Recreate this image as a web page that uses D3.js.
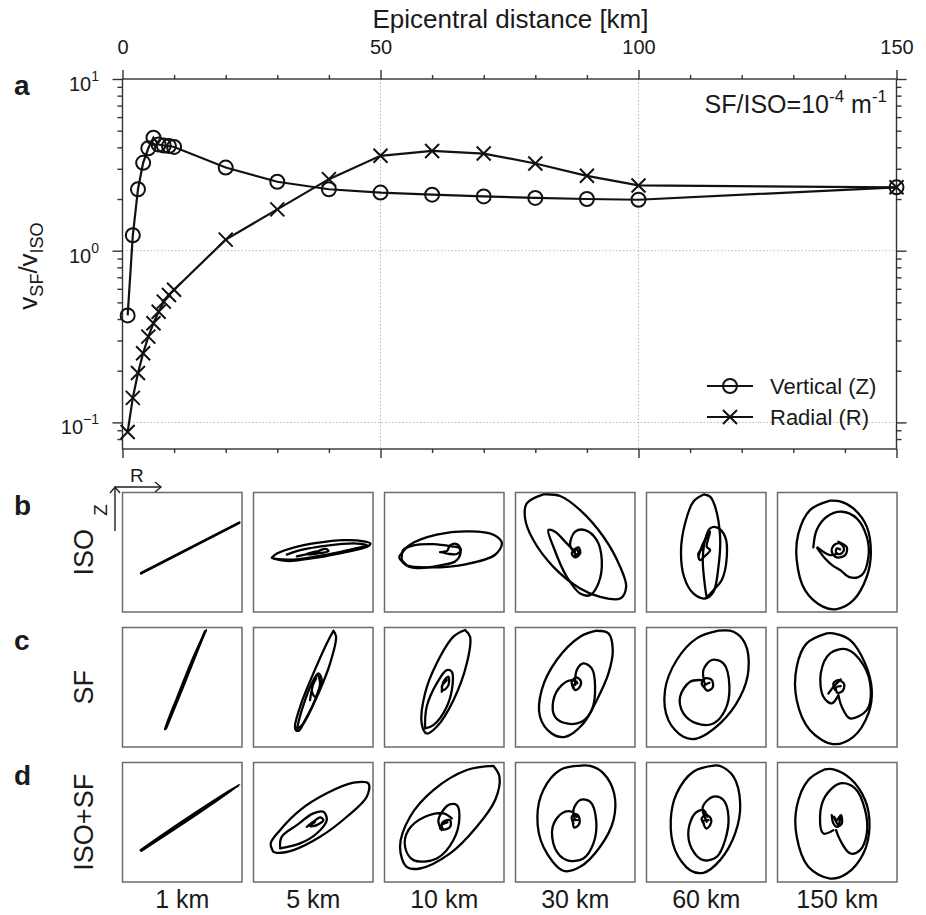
<!DOCTYPE html>
<html>
<head>
<meta charset="utf-8">
<script src="https://cdn.jsdelivr.net/npm/d3@7"></script>
<style>
  body { margin: 0; background: #fff; }
  svg { font-family: "Liberation Sans", Arial, sans-serif; }
</style>
</head>
<body>
<svg></svg>
<script>
// panel a values
let distances = [1, 2, 3, 4, 5, 6, 7, 8, 9, 10, 20, 30, 40, 50, 60, 70, 80, 90, 100, 150]
let vertical = [0.42, 1.23, 2.28, 3.25, 3.95, 4.55, 4.15, 4.1, 4.07, 4.02, 3.05, 2.52, 2.28, 2.18, 2.12, 2.07, 2.03, 2.0, 1.98, 2.34]
let radial = [0.088, 0.139, 0.194, 0.253, 0.316, 0.378, 0.441, 0.505, 0.552, 0.592, 1.16, 1.74, 2.61, 3.57, 3.81, 3.68, 3.22, 2.73, 2.40, 2.34]

let xTicks = [0, 50, 100, 150]
let xMinor = [10, 20, 30, 40, 60, 70, 80, 90, 110, 120, 130, 140]
let yTicks = [0.1, 1, 10]
let yTickExp = ['-1', '0', '1']
let yMinor = [0.08, 0.09, 0.2, 0.3, 0.4, 0.5, 0.6, 0.7, 0.8, 0.9, 2, 3, 4, 5, 6, 7, 8, 9]
let gridX = [50, 100]
let gridY = [0.1, 1]

// panels b-d: particle motion, [R, Z] in box percent (Z upward)
let panelDist = ['1 km', '5 km', '10 km', '30 km', '60 km', '150 km']
let rowNames = ['ISO', 'SF', 'ISO+SF']
let rowLetters = ['b', 'c', 'd']

let hodoISO = [
  [[[15.4,32.7],[97.8,74.9]], [[15.6,32.2],[97.6,74.5]]],
  [[[15.4,45.3],[27.9,42.7],[53.1,45.5],[78.2,50.3],[95.0,54.5],[97.8,57.3],[92.2,59.2],[75.4,60.1],[53.1,57.8],[33.5,53.9],[19.6,48.9],[15.4,45.5]],
   [[17.3,44.4],[33.5,43.9],[61.5,48.0],[83.8,52.8],[95.0,55.9],[86.6,57.3],[61.5,55.6],[39.1,51.7],[27.9,48.0]],
   [[36.3,46.6],[53.1,50.6],[60.1,52.8],[62.8,51.1],[53.1,48.9],[43.3,48.3],[51.7,50.6]]],
  [[[12.4,46.5],[21.4,56.3],[43.7,64.7],[71.6,67.5],[91.2,64.7],[98.2,57.7],[92.6,47.9],[68.9,40.1],[38.1,37.3],[18.6,39.0],[12.4,45.1]],
   [[14.4,43.7],[15.8,52.1],[24.2,55.7],[40.9,56.8],[56.3,54.9],[62.7,53.5],[63.3,47.9],[59.1,42.3],[46.5,39.0],[29.7,36.7],[20.0,38.1],[14.4,43.7]],
   [[46.5,50.1],[52.1,50.7],[54.9,55.7],[60.5,56.8],[63.8,52.1],[60.5,48.5],[53.5,48.7],[47.9,50.1],[52.1,51.0]]],
  [[[23.3,98.5],[9.4,90.9],[8.0,78.4],[14.9,60.2],[31.7,37.8],[54.1,19.7],[70.8,12.7],[87.6,11.3],[92.6,21.1],[87.6,37.8],[73.6,63.0],[54.1,85.3],[37.3,97.1],[23.3,98.5]],
   [[49.9,49.0],[45.7,56.0],[49.9,67.2],[58.2,68.6],[68.0,60.2],[72.2,43.4],[69.4,23.9],[62.4,14.1],[54.1,15.5],[42.9,29.5],[31.7,54.6],[27.5,68.6],[33.1,67.2],[42.9,57.4],[49.9,50.4]],
   [[48.5,51.8],[52.7,54.1],[54.1,49.0],[49.9,45.7],[47.1,49.0],[50.7,52.4],[52.9,49.6],[49.9,47.6]]],
  [[[48.2,98.5],[39.2,92.3],[32.3,74.2],[28.9,51.8],[31.4,29.5],[39.2,15.5],[49.0,11.3],[56.0,16.9],[60.2,37.8],[61.6,63.0],[57.4,88.1],[53.2,96.5],[48.2,98.5]],
   [[50.4,12.2],[56.0,18.3],[63.0,26.7],[67.2,46.2],[65.8,63.0],[58.8,70.8],[53.2,70.0],[49.0,60.2],[47.1,43.4],[49.0,21.1],[50.4,12.2]],
   [[43.4,46.2],[46.2,54.6],[53.2,67.2],[50.4,54.6],[53.2,51.8],[48.2,46.2],[44.8,43.4],[43.4,49.0],[47.6,53.2]]],
  [[[44.0,93.2],[27.2,85.3],[17.5,65.8],[16.1,43.4],[23.0,18.3],[38.4,4.3],[49.6,2.4],[63.5,9.9],[74.7,29.5],[78.1,49.0],[74.7,71.4],[63.5,86.7],[52.4,92.6],[44.0,93.2]],
   [[30.0,54.1],[32.8,68.6],[41.2,79.7],[53.8,83.9],[66.3,78.4],[74.7,63.0],[76.1,46.2],[70.5,30.9],[60.8,28.9],[52.4,35.1],[46.8,38.4],[39.8,44.8],[33.4,53.2]],
   [[33.4,54.1],[44.0,47.6],[50.1,49.0]],
   [[51.0,58.8],[58.0,54.1],[56.6,47.6],[49.6,45.7],[45.4,50.4],[47.3,56.0],[52.4,57.4],[55.7,52.4],[52.4,48.5],[49.0,49.6],[49.6,53.2],[52.4,52.4]]]
]

let hodoSF = [
  [[[35.6,14.9],[48.2,47.6],[60.8,78.4],[70.0,97.9],[66.3,89.5],[55.2,63.0],[42.6,33.7],[36.2,16.9]],
   [[36.5,15.6],[52.4,54.6],[68.9,96.8]]],
  [[[66.9,97.3],[61.3,86.7],[50.1,61.6],[39.0,33.7],[34.8,15.5],[37.6,13.5],[43.2,22.5],[54.3,44.8],[64.1,70.0],[69.1,92.3],[66.9,97.3]],
   [[36.2,14.7],[40.4,30.9],[48.7,53.2],[54.3,61.6],[57.1,56.0],[51.5,39.2],[41.8,19.7],[36.2,14.7]],
   [[47.3,39.2],[50.1,53.2],[53.5,60.2],[55.7,53.2],[51.5,42.0],[48.7,47.6],[52.4,57.4]]],
  [[[67.5,97.9],[57.7,92.3],[43.7,70.0],[33.9,44.8],[31.1,19.7],[35.3,11.3],[43.7,16.9],[57.7,39.2],[68.9,70.0],[71.6,92.3],[67.5,97.9]],
   [[33.9,15.5],[35.3,33.7],[43.7,53.2],[52.1,64.4],[56.3,63.0],[57.1,53.2],[52.1,33.7],[40.9,18.3],[33.9,15.5]],
   [[47.9,46.2],[49.3,54.6],[53.5,58.8],[53.5,51.8],[49.3,47.6],[47.9,50.4],[52.1,56.0]]],
  [[[68.0,97.3],[54.1,92.3],[34.5,72.8],[21.9,47.6],[20.5,25.3],[30.3,11.3],[41.5,8.5],[56.8,19.7],[68.0,39.2],[77.8,61.6],[81.4,81.1],[77.8,95.1],[68.0,97.3]],
   [[49.9,51.8],[51.3,64.4],[56.8,70.0],[63.8,65.8],[66.6,50.4],[63.8,30.9],[55.4,21.1],[42.9,19.7],[33.1,25.3],[31.7,39.2],[38.7,51.8],[47.1,56.0],[51.3,54.6]],
   [[48.5,49.0],[47.1,54.6],[50.7,58.2],[54.6,55.4],[53.5,49.9],[49.9,47.6],[48.5,51.8],[51.8,53.5]]],
  [[[60.2,97.3],[42.0,90.9],[25.3,72.8],[15.5,47.6],[18.3,22.5],[30.9,8.5],[42.0,7.1],[61.6,19.7],[78.4,42.0],[85.3,64.4],[82.5,86.7],[72.8,96.5],[60.2,97.3]],
   [[49.0,51.8],[47.6,64.4],[54.6,72.8],[64.4,70.0],[69.4,50.4],[65.8,30.9],[56.0,19.7],[42.0,19.7],[30.9,28.1],[28.1,42.0],[36.5,54.6],[46.2,56.0]],
   [[49.0,49.0],[46.2,53.2],[49.0,57.4],[54.6,56.0],[55.4,49.9],[51.0,47.1],[48.2,51.0],[52.7,53.8]]],
  [[[41.2,95.1],[24.4,86.7],[16.1,67.2],[16.1,39.2],[27.2,14.1],[46.8,2.4],[63.5,8.5],[76.1,28.1],[78.9,47.6],[73.3,70.0],[60.8,89.5],[46.8,95.1],[41.2,95.1]],
   [[51.0,43.4],[53.8,33.7],[60.8,23.9],[74.7,30.9],[78.1,47.6],[71.9,68.6],[58.0,81.7],[44.0,78.4],[36.2,61.6],[38.4,42.0],[45.4,36.5],[51.0,43.4]],
   [[42.6,44.8],[48.2,51.8],[52.9,56.6]],
   [[48.2,47.6],[46.8,53.2],[51.0,56.0],[55.7,52.7],[54.6,47.1],[50.1,45.4],[49.0,49.9],[52.9,51.0]]]
]

let hodoBoth = [
  [[[15.2,26.7],[51.0,51.3],[97.9,81.4],[64.9,58.5],[15.8,26.1]]],
  [[[16.6,25.3],[14.4,32.3],[22.2,43.4],[39.0,60.2],[61.3,74.2],[83.7,83.1],[96.2,82.5],[94.8,71.4],[78.1,54.6],[55.7,37.8],[33.4,26.7],[19.4,24.4],[16.6,25.3]],
   [[22.2,29.5],[23.6,37.8],[36.2,47.6],[50.1,57.4],[58.5,58.8],[61.3,51.8],[52.9,40.6],[39.0,32.3],[22.2,28.1]],
   [[44.6,46.2],[50.1,50.4],[55.7,54.1],[58.5,51.8],[52.9,47.6],[47.3,46.8],[51.5,50.4]]],
  [[[91.2,97.1],[68.9,93.7],[40.9,76.9],[21.4,54.6],[13.0,29.5],[18.6,12.7],[29.7,11.3],[54.9,23.9],[77.2,46.2],[92.6,68.6],[96.2,88.1],[91.2,97.1]],
   [[47.9,43.4],[45.1,51.8],[53.5,64.4],[60.5,64.4],[62.7,54.6],[57.7,35.1],[43.7,19.7],[24.2,18.3],[17.2,29.5],[20.0,43.4],[33.9,54.6],[49.3,57.4],[56.3,53.2]],
   [[46.5,44.8],[49.3,50.4],[54.9,51.8],[54.9,46.2],[49.3,44.0],[47.9,47.6],[52.7,49.9]]],
  [[[54.1,97.3],[37.3,93.7],[23.3,77.0],[18.3,54.6],[23.3,29.5],[40.1,9.4],[54.1,12.7],[70.8,29.5],[82.0,51.8],[82.5,74.2],[73.6,90.9],[62.4,97.1],[54.1,97.3]],
   [[49.9,51.8],[48.5,60.2],[54.1,68.6],[62.4,67.2],[67.5,51.8],[65.2,32.3],[56.8,19.7],[42.9,18.3],[33.1,28.1],[31.1,46.2],[38.7,57.4],[47.1,58.8],[51.3,54.6]],
   [[48.5,49.0],[47.1,54.6],[50.7,56.8],[53.5,53.2],[52.7,47.6],[49.0,45.7],[48.5,51.8],[51.8,51.8]]],
  [[[56.0,97.3],[39.2,92.3],[25.3,74.2],[20.3,51.8],[23.9,26.7],[36.5,9.9],[47.6,7.7],[61.6,18.3],[74.2,40.6],[78.4,65.8],[72.8,88.1],[61.6,97.1],[56.0,97.3]],
   [[50.4,50.4],[47.1,63.0],[56.0,71.4],[64.4,68.6],[68.6,54.6],[65.8,35.1],[58.8,21.1],[47.6,18.3],[37.8,28.1],[35.1,43.4],[40.6,57.4],[47.6,60.2],[51.0,54.6]],
   [[48.2,48.5],[46.2,53.2],[49.9,56.0],[53.8,53.2],[53.2,47.6],[49.9,44.8],[47.6,51.0],[51.8,51.8]]],
  [[[39.8,94.3],[25.8,85.3],[16.1,62.9],[16.1,37.8],[25.8,12.7],[44.0,2.9],[58.0,7.1],[71.9,23.9],[77.0,46.2],[73.3,68.6],[60.8,86.7],[46.8,94.3],[39.8,94.3]],
   [[46.8,43.4],[38.4,40.6],[35.6,54.6],[39.8,71.4],[52.4,82.5],[64.9,78.4],[73.3,60.2],[74.7,40.6],[69.1,26.7],[60.8,23.9],[52.4,35.1],[49.0,43.4]],
   [[45.4,56.0],[46.8,49.0],[49.6,46.2],[53.8,49.0],[53.0,56.0],[49.6,51.8],[47.3,54.6],[51.0,47.6],[52.4,53.2]]]
]

let width = 926
let height = 915
let plotLeft = 122.5, plotRight = 896.5, plotTop = 79, plotBottom = 449
let ink = '#1a1a1a'
let axisColor = '#333'

let svg = d3.select('svg')
  .attr('width', width)
  .attr('height', height)

let xScale = d3.scaleLinear().domain([0, 150]).range([plotLeft, plotRight])
let yScale = d3.scaleLog().domain([0.07, 10]).range([plotBottom, plotTop])

// ---------- panel a ----------
let grid = svg.append('g')
gridX.forEach(v => {
  grid.append('line')
    .attr('x1', xScale(v)).attr('x2', xScale(v))
    .attr('y1', plotTop).attr('y2', plotBottom)
})
gridY.forEach(v => {
  grid.append('line')
    .attr('x1', plotLeft).attr('x2', plotRight)
    .attr('y1', yScale(v)).attr('y2', yScale(v))
})
grid.selectAll('line')
  .attr('stroke', '#b5b5b5')
  .attr('stroke-width', 1)
  .attr('stroke-dasharray', '1.5,2')

let styleAxis = (g) => {
  g.select('.domain').remove()
  g.selectAll('line').attr('stroke', axisColor).attr('stroke-width', 1.4)
  g.selectAll('text').attr('fill', ink)
}

// top axis with labels
svg.append('g')
  .attr('transform', 'translate(0,' + plotTop + ')')
  .call(d3.axisTop(xScale).tickValues(xTicks).tickSize(9).tickSizeOuter(0).tickPadding(16).tickFormat(d3.format('d')))
  .call(styleAxis)
  .selectAll('text')
  .attr('font-size', 20)
  .attr('font-family', '"Liberation Sans", Arial, sans-serif')

svg.append('g')
  .attr('transform', 'translate(0,' + plotTop + ')')
  .call(d3.axisTop(xScale).tickValues(xMinor).tickSize(4).tickSizeOuter(0).tickFormat(''))
  .call(styleAxis)

// bottom axis (ticks only)
svg.append('g')
  .attr('transform', 'translate(0,' + plotBottom + ')')
  .call(d3.axisBottom(xScale).tickValues(xTicks).tickSize(9).tickSizeOuter(0).tickFormat(''))
  .call(styleAxis)
svg.append('g')
  .attr('transform', 'translate(0,' + plotBottom + ')')
  .call(d3.axisBottom(xScale).tickValues(xMinor).tickSize(4).tickSizeOuter(0).tickFormat(''))
  .call(styleAxis)

// left axis
svg.append('g')
  .attr('transform', 'translate(' + plotLeft + ',0)')
  .call(d3.axisLeft(yScale).tickValues(yTicks).tickSize(10).tickSizeOuter(0).tickFormat(''))
  .call(styleAxis)
svg.append('g')
  .attr('transform', 'translate(' + plotLeft + ',0)')
  .call(d3.axisLeft(yScale).tickValues(yMinor).tickSize(5).tickSizeOuter(0).tickFormat(''))
  .call(styleAxis)

// right axis
svg.append('g')
  .attr('transform', 'translate(' + plotRight + ',0)')
  .call(d3.axisRight(yScale).tickValues(yTicks).tickSize(10).tickSizeOuter(0).tickFormat(''))
  .call(styleAxis)
svg.append('g')
  .attr('transform', 'translate(' + plotRight + ',0)')
  .call(d3.axisRight(yScale).tickValues(yMinor).tickSize(5).tickSizeOuter(0).tickFormat(''))
  .call(styleAxis)

// y tick labels 10^n
yTicks.forEach((v, i) => {
  let t = svg.append('text')
    .attr('x', 99)
    .attr('y', yScale(v) + 12)
    .attr('text-anchor', 'end')
    .attr('fill', ink)
    .attr('font-size', 20)
  t.append('tspan').text('10')
  t.append('tspan').attr('font-size', 14).attr('dy', -10).text(yTickExp[i].replace('-', '\u2212'))
})

// frame
svg.append('rect')
  .attr('x', plotLeft).attr('y', plotTop)
  .attr('width', plotRight - plotLeft).attr('height', plotBottom - plotTop)
  .attr('fill', 'none')
  .attr('stroke', axisColor)
  .attr('stroke-width', 1.4)

// x title
svg.append('text')
  .attr('x', (plotLeft + plotRight) / 2 + 1)
  .attr('y', 28)
  .attr('text-anchor', 'middle')
  .attr('font-size', 26)
  .attr('fill', ink)
  .text('Epicentral distance [km]')

// y title v_SF / v_ISO
let yTitle = svg.append('text')
  .attr('transform', 'translate(37,266) rotate(-90)')
  .attr('text-anchor', 'middle')
  .attr('font-size', 26)
  .attr('fill', ink)
yTitle.append('tspan').text('v')
yTitle.append('tspan').attr('font-size', 18).attr('dy', 6).text('SF')
yTitle.append('tspan').attr('dy', -6).text('/v')
yTitle.append('tspan').attr('font-size', 18).attr('dy', 6).text('ISO')

// panel letter a
svg.append('text')
  .attr('x', 14).attr('y', 95)
  .attr('font-size', 28).attr('font-weight', 'bold')
  .attr('fill', ink)
  .text('a')

// SF/ISO annotation
let note = svg.append('text')
  .attr('x', 887).attr('y', 113)
  .attr('text-anchor', 'end')
  .attr('font-size', 25)
  .attr('fill', ink)
note.append('tspan').text('SF/ISO=10')
note.append('tspan').attr('font-size', 17).attr('dy', -11).text('-4')
note.append('tspan').attr('dy', 11).text(' m')
note.append('tspan').attr('font-size', 17).attr('dy', -11).text('-1')

// data lines
let zData = distances.map((d, i) => [d, vertical[i]])
let rData = distances.map((d, i) => [d, radial[i]])

let line = d3.line()
  .x(d => xScale(d[0]))
  .y(d => yScale(d[1]))

svg.append('path')
  .datum(zData)
  .attr('d', line)
  .attr('fill', 'none')
  .attr('stroke', '#111')
  .attr('stroke-width', 2.2)

svg.append('path')
  .datum(rData)
  .attr('d', line)
  .attr('fill', 'none')
  .attr('stroke', '#111')
  .attr('stroke-width', 2.2)

let crossPath = 'M-7,-7L7,7M-7,7L7,-7'

svg.selectAll('.mz')
  .data(zData)
  .enter()
  .append('circle')
  .attr('class', 'mz')
  .attr('cx', d => xScale(d[0]))
  .attr('cy', d => yScale(d[1]))
  .attr('r', 7)
  .attr('fill', 'none')
  .attr('stroke', '#111')
  .attr('stroke-width', 2)

svg.selectAll('.mr')
  .data(rData)
  .enter()
  .append('path')
  .attr('class', 'mr')
  .attr('transform', d => 'translate(' + xScale(d[0]) + ',' + yScale(d[1]) + ')')
  .attr('d', crossPath)
  .attr('fill', 'none')
  .attr('stroke', '#111')
  .attr('stroke-width', 2)

// legend
let legendItems = ['Vertical (Z)', 'Radial (R)']
legendItems.forEach((name, i) => {
  let y = 386 + i * 31
  let g = svg.append('g').attr('transform', 'translate(0,' + y + ')')
  g.append('line')
    .attr('x1', 707).attr('x2', 753)
    .attr('stroke', '#111').attr('stroke-width', 2.2)
  if (i == 0) {
    g.append('circle').attr('cx', 730).attr('r', 7)
      .attr('fill', 'none').attr('stroke', '#111').attr('stroke-width', 2)
  } else {
    g.append('path').attr('transform', 'translate(730,0)').attr('d', crossPath)
      .attr('fill', 'none').attr('stroke', '#111').attr('stroke-width', 2)
  }
  g.append('text')
    .attr('x', 770).attr('y', 8)
    .attr('font-size', 22)
    .attr('fill', ink)
    .text(name)
})

// ---------- panels b-d ----------
let colScale = d3.scaleBand()
  .domain(panelDist)
  .range([122.5, 897])
  .paddingInner(0.0878)

let rowScale = d3.scaleBand()
  .domain(rowNames)
  .range([492.5, 882])
  .paddingInner(0.1148)

let bw = colScale.bandwidth()
let bh = rowScale.bandwidth()

let rScale = d3.scaleLinear().domain([0, 100]).range([0, bw])
let zScale = d3.scaleLinear().domain([0, 100]).range([bh, 0])

let hodoLine = d3.line()
  .curve(d3.curveCatmullRom.alpha(0.5))
  .x(d => rScale(d[0]))
  .y(d => zScale(d[1]))

let rows = [hodoISO, hodoSF, hodoBoth]

rows.forEach((rowData, ri) => {
  let rowName = rowNames[ri]
  let y0 = rowScale(rowName)

  rowData.forEach((strokes, ci) => {
    let x0 = colScale(panelDist[ci])
    let g = svg.append('g').attr('transform', 'translate(' + x0 + ',' + y0 + ')')

    g.selectAll('path')
      .data(strokes)
      .enter()
      .append('path')
      .attr('d', hodoLine)
      .attr('fill', 'none')
      .attr('stroke', '#000')
      .attr('stroke-width', 2.3)
      .attr('stroke-linejoin', 'round')
      .attr('stroke-linecap', 'round')

    g.append('rect')
      .attr('width', bw).attr('height', bh)
      .attr('fill', 'none')
      .attr('stroke', '#6b6b6b')
      .attr('stroke-width', 1.5)
  })

  // row label
  svg.append('text')
    .attr('transform', 'translate(93,' + (y0 + bh / 2) + ') rotate(-90)')
    .attr('text-anchor', 'middle')
    .attr('font-size', 27)
    .attr('fill', ink)
    .text(rowName)

  svg.append('text')
    .attr('x', 14).attr('y', y0 + 22.5)
    .attr('font-size', 28).attr('font-weight', 'bold')
    .attr('fill', ink)
    .text(rowLetters[ri])
})

// distance labels
panelDist.forEach(name => {
  svg.append('text')
    .attr('x', colScale(name) + bw / 2)
    .attr('y', 908)
    .attr('text-anchor', 'middle')
    .attr('font-size', 25)
    .attr('fill', ink)
    .text(name)
})

// R / Z direction arrows
let arrows = svg.append('g')
  .attr('stroke', '#222')
  .attr('stroke-width', 1.4)
  .attr('fill', 'none')
arrows.append('path').attr('d', 'M115,531V487H161')
arrows.append('path').attr('d', 'M110,493L115,487L120,493')
arrows.append('path').attr('d', 'M155,482L161,487L155,492')

svg.append('text')
  .attr('x', 130).attr('y', 482)
  .attr('font-size', 19)
  .attr('fill', ink)
  .text('R')

svg.append('text')
  .attr('transform', 'translate(107,510) rotate(-90)')
  .attr('text-anchor', 'middle')
  .attr('font-size', 19)
  .attr('fill', ink)
  .text('Z')
</script>
</body>
</html>
